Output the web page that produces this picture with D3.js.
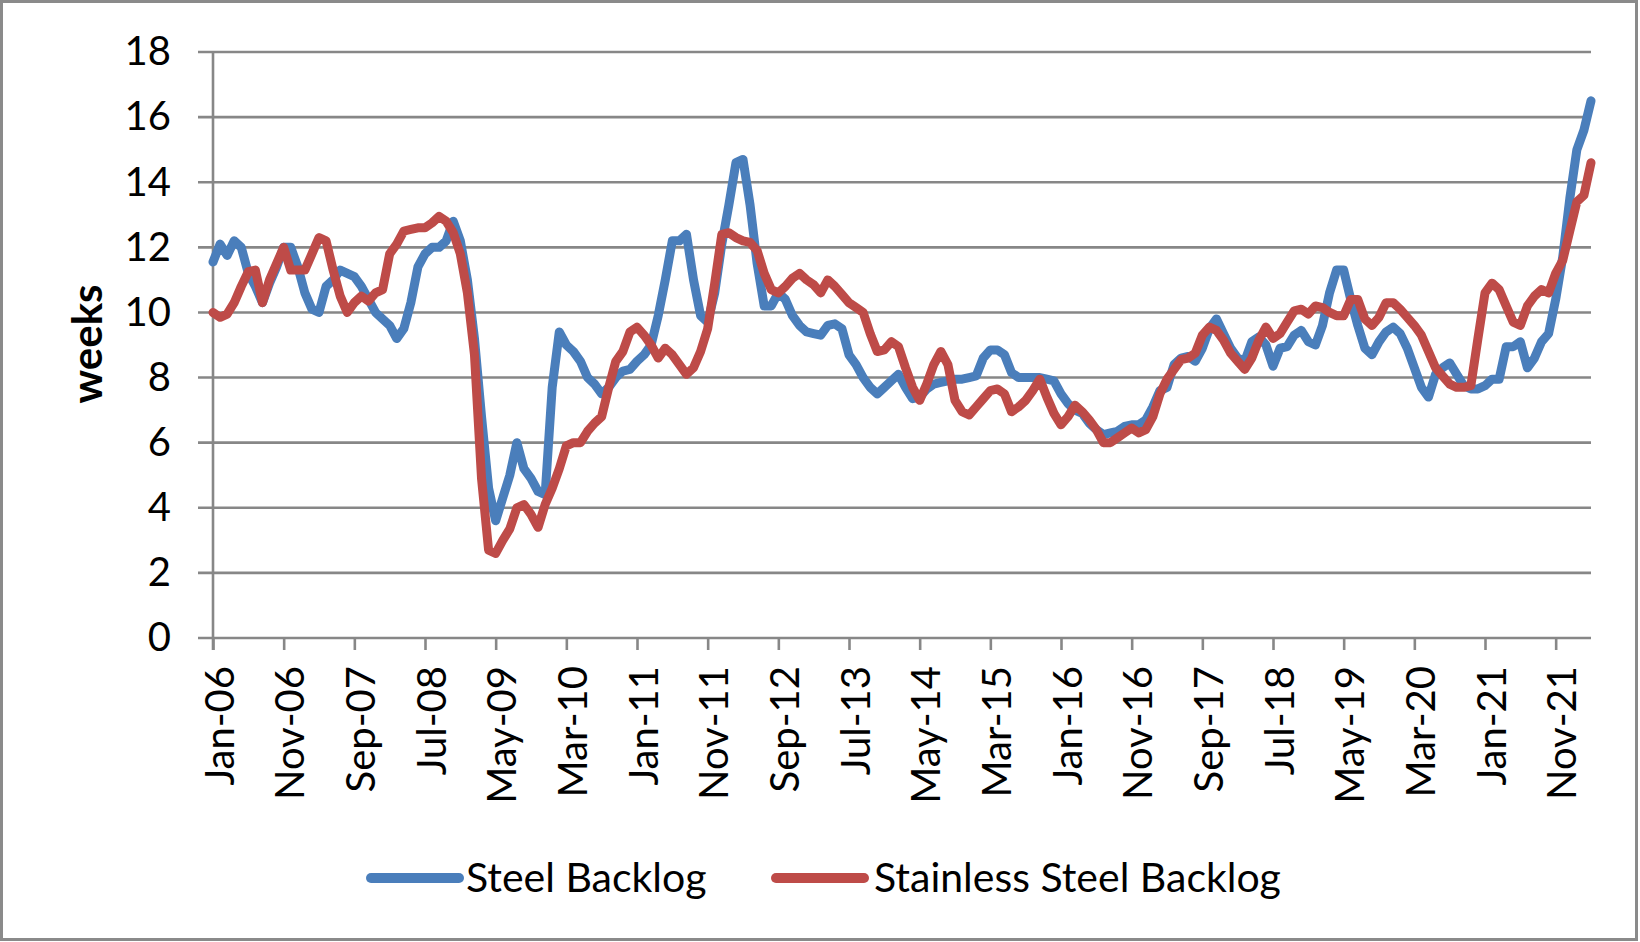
<!DOCTYPE html>
<html>
<head>
<meta charset="utf-8">
<script src="https://cdn.jsdelivr.net/npm/d3@7"></script>
<style>
	html, body { margin: 0; padding: 0; background: #fff; }
	svg { display: block; font-family: Lato, "Open Sans", sans-serif; }
</style>
</head>
<body>
<div id="chart"></div>
<script>

// monthly backlog in weeks, Jan-06 .. Apr-22
var steel_backlog = [
	11.55, 12.1, 11.75, 12.2, 12.0, 11.2, 10.8, 10.3, 10.9, 11.4,
	12.0, 12.0, 11.4, 10.6, 10.1, 10.0, 10.8, 11.0, 11.3, 11.2,
	11.1, 10.8, 10.4, 10.0, 9.8, 9.6, 9.2, 9.5, 10.3, 11.4,
	11.8, 12.0, 12.0, 12.2, 12.8, 12.2, 11.0, 9.2, 6.8, 4.6,
	3.6, 4.3, 5.0, 6.0, 5.2, 4.9, 4.5, 4.4, 7.7, 9.4,
	9.0, 8.8, 8.5, 8.0, 7.8, 7.5, 7.7, 8.0, 8.2, 8.25,
	8.5, 8.7, 9.0, 9.9, 11.0, 12.2, 12.2, 12.4, 11.0, 9.9,
	9.7, 10.6, 12.1, 13.3, 14.6, 14.7, 13.3, 11.5, 10.2, 10.2,
	10.6, 10.4, 9.9, 9.6, 9.4, 9.35, 9.3, 9.6, 9.65, 9.5,
	8.7, 8.4, 8.0, 7.7, 7.5, 7.7, 7.9, 8.1, 7.7, 7.35,
	7.4, 7.65, 7.8, 7.85, 7.9, 7.95, 7.95, 8.0, 8.05, 8.6,
	8.85, 8.85, 8.7, 8.15, 8.0, 8.0, 8.0, 8.0, 7.95, 7.9,
	7.5, 7.2, 7.0, 6.9, 6.6, 6.4, 6.25, 6.3, 6.35, 6.5,
	6.55, 6.55, 6.7, 7.1, 7.6, 7.7, 8.4, 8.6, 8.65, 8.5,
	8.9, 9.5, 9.8, 9.35, 8.9, 8.6, 8.5, 9.1, 9.25, 9.0,
	8.35, 8.9, 8.95, 9.3, 9.45, 9.1, 9.0, 9.6, 10.6, 11.3,
	11.3, 10.4, 9.6, 8.9, 8.7, 9.1, 9.4, 9.55, 9.35, 8.9,
	8.3, 7.7, 7.4, 8.1, 8.3, 8.45, 8.1, 7.75, 7.65, 7.65,
	7.75, 7.95, 7.95, 8.95, 8.95, 9.1, 8.3, 8.6, 9.1, 9.35,
	10.4, 11.7, 13.5, 15.0, 15.6, 16.5
];

var stainless_backlog = [
	10.0, 9.85, 9.95, 10.3, 10.8, 11.25, 11.3, 10.3, 11.0, 11.5,
	12.0, 11.3, 11.3, 11.3, 11.8, 12.3, 12.2, 11.3, 10.5, 10.0,
	10.3, 10.5, 10.35, 10.6, 10.7, 11.8, 12.1, 12.5, 12.55, 12.6,
	12.6, 12.75, 12.95, 12.8, 12.45, 11.8, 10.6, 8.7, 4.9, 2.7,
	2.6, 3.0, 3.35, 4.0, 4.1, 3.8, 3.4, 4.1, 4.6, 5.2,
	5.9, 6.0, 6.0, 6.35, 6.6, 6.8, 7.7, 8.5, 8.8, 9.4,
	9.55, 9.3, 9.0, 8.6, 8.9, 8.7, 8.4, 8.1, 8.3, 8.8,
	9.5, 10.9, 12.4, 12.45, 12.3, 12.2, 12.15, 11.9, 11.2, 10.7,
	10.6, 10.8, 11.05, 11.2, 11.0, 10.85, 10.6, 11.0, 10.8, 10.55,
	10.3, 10.15, 10.0, 9.35, 8.8, 8.85, 9.1, 8.95, 8.3, 7.7,
	7.3, 7.8, 8.4, 8.8, 8.4, 7.3, 6.95, 6.85, 7.1, 7.35,
	7.6, 7.65, 7.5, 6.95, 7.1, 7.3, 7.6, 7.95, 7.4, 6.9,
	6.55, 6.8, 7.15, 6.95, 6.7, 6.4, 6.0, 6.0, 6.15, 6.3,
	6.45, 6.3, 6.4, 6.8, 7.5, 7.95, 8.25, 8.55, 8.6, 8.75,
	9.3, 9.55, 9.45, 9.15, 8.75, 8.5, 8.25, 8.6, 9.15, 9.55,
	9.2, 9.35, 9.7, 10.05, 10.1, 9.95, 10.2, 10.15, 10.0, 9.9,
	9.9, 10.4, 10.4, 9.8, 9.6, 9.85, 10.3, 10.3, 10.1, 9.85,
	9.6, 9.3, 8.8, 8.3, 8.05, 7.8, 7.7, 7.7, 7.75, 9.2,
	10.6, 10.9, 10.7, 10.2, 9.7, 9.6, 10.2, 10.5, 10.7, 10.6,
	11.2, 11.6, 12.5, 13.4, 13.6, 14.6
];

// one label every 10 months
var tick_labels = ["Jan-06","Nov-06","Sep-07","Jul-08","May-09","Mar-10","Jan-11","Nov-11",
	"Sep-12","Jul-13","May-14","Mar-15","Jan-16","Nov-16","Sep-17","Jul-18","May-19",
	"Mar-20","Jan-21","Nov-21"];
var tick_step = 10;
var y_ticks = [0, 2, 4, 6, 8, 10, 12, 14, 16, 18];

var series_names = ["Steel Backlog", "Stainless Steel Backlog"];
var series_colors = ["#4A7EBB", "#BE4B48"];

const width = 1640
const height = 942
const plotLeft = 213, plotRight = 1591, plotTop = 52, plotBottom = 638
const fontSize = 40

var svg = d3.select('#chart').append('svg')
	.attr('width', width)
	.attr('height', height);

// outer frame
svg.append('rect')
	.attr('x', 1.5).attr('y', 1.5)
	.attr('width', width - 5).attr('height', height - 4)
	.attr('fill', 'none')
	.attr('stroke', '#8a8a8a')
	.attr('stroke-width', 3);

var x = d3.scaleLinear().domain([0, steel_backlog.length - 1]).range([plotLeft, plotRight]);
var y = d3.scaleLinear().domain([0, 18]).range([plotBottom, plotTop]);

// horizontal gridlines (with the little outer tick on the left)
svg.append('g').attr('id', 'grid')
	.selectAll('line').data(y_ticks).enter().append('line')
	.attr('x1', plotLeft - 15).attr('x2', plotRight)
	.attr('y1', function(d){ return y(d) })
	.attr('y2', function(d){ return y(d) })
	.attr('stroke', '#878787')
	.attr('stroke-width', 2.6);

// y axis labels
var yAxis = d3.axisLeft(y).tickValues(y_ticks).tickSize(0).tickPadding(42);
var gy = svg.append('g').attr('transform', 'translate(' + plotLeft + ',0)').call(yAxis);
gy.select('.domain').remove();
gy.selectAll('text')
	.attr('font-size', fontSize)
	.attr('font-family', 'Lato, sans-serif')
	.attr('fill', '#000');

// vertical axis line
svg.append('line')
	.attr('x1', plotLeft).attr('x2', plotLeft)
	.attr('y1', plotTop).attr('y2', plotBottom + 12)
	.attr('stroke', '#878787').attr('stroke-width', 2.6);

// x axis ticks and labels
var tick_idx = tick_labels.map(function(d, k){ return k * tick_step });
var xAxis = d3.axisBottom(x).tickValues(tick_idx)
	.tickSize(12)
	.tickFormat(function(d){ return tick_labels[d / tick_step] });
var gx = svg.append('g').attr('transform', 'translate(0,' + plotBottom + ')').call(xAxis);
gx.select('.domain').remove();
gx.selectAll('.tick line').attr('stroke', '#878787').attr('stroke-width', 2.6);
gx.selectAll('.tick text')
	.attr('font-size', fontSize)
	.attr('font-family', 'Lato, sans-serif')
	.attr('fill', '#000')
	.attr('text-anchor', 'end')
	.attr('x', 0).attr('y', 0)
	.attr('dy', '0.35em')
	.attr('transform', 'translate(6,28) rotate(-90)');

// axis title
svg.append('text')
	.attr('transform', 'translate(102,344) rotate(-90)')
	.attr('text-anchor', 'middle')
	.attr('font-size', 42)
	.attr('font-weight', 'bold')
	.text('weeks');

// series lines, red drawn last so it sits on top
var line = d3.line()
	.x(function(d, i){ return x(i) })
	.y(function(d){ return y(d) });

svg.append('g').attr('id', 'series')
	.selectAll('path').data([steel_backlog, stainless_backlog]).enter().append('path')
	.attr('d', line)
	.attr('fill', 'none')
	.attr('stroke', function(d, i){ return series_colors[i] })
	.attr('stroke-width', 9)
	.attr('stroke-linejoin', 'round')
	.attr('stroke-linecap', 'round');

// legend
var legend_pos = [{ x: 371, tx: 466 }, { x: 776, tx: 874 }];
var leg = svg.append('g').attr('id', 'legend')
	.selectAll('g').data(series_names).enter().append('g');
leg.append('line')
	.attr('x1', function(d, i){ return legend_pos[i].x })
	.attr('x2', function(d, i){ return legend_pos[i].x + 88 })
	.attr('y1', 878).attr('y2', 878)
	.attr('stroke', function(d, i){ return series_colors[i] })
	.attr('stroke-width', 10)
	.attr('stroke-linecap', 'round');
leg.append('text')
	.attr('x', function(d, i){ return legend_pos[i].tx })
	.attr('y', 892)
	.attr('font-size', fontSize + 1)
	.attr('fill', '#000')
	.text(function(d){ return d });

</script>
</body>
</html>
